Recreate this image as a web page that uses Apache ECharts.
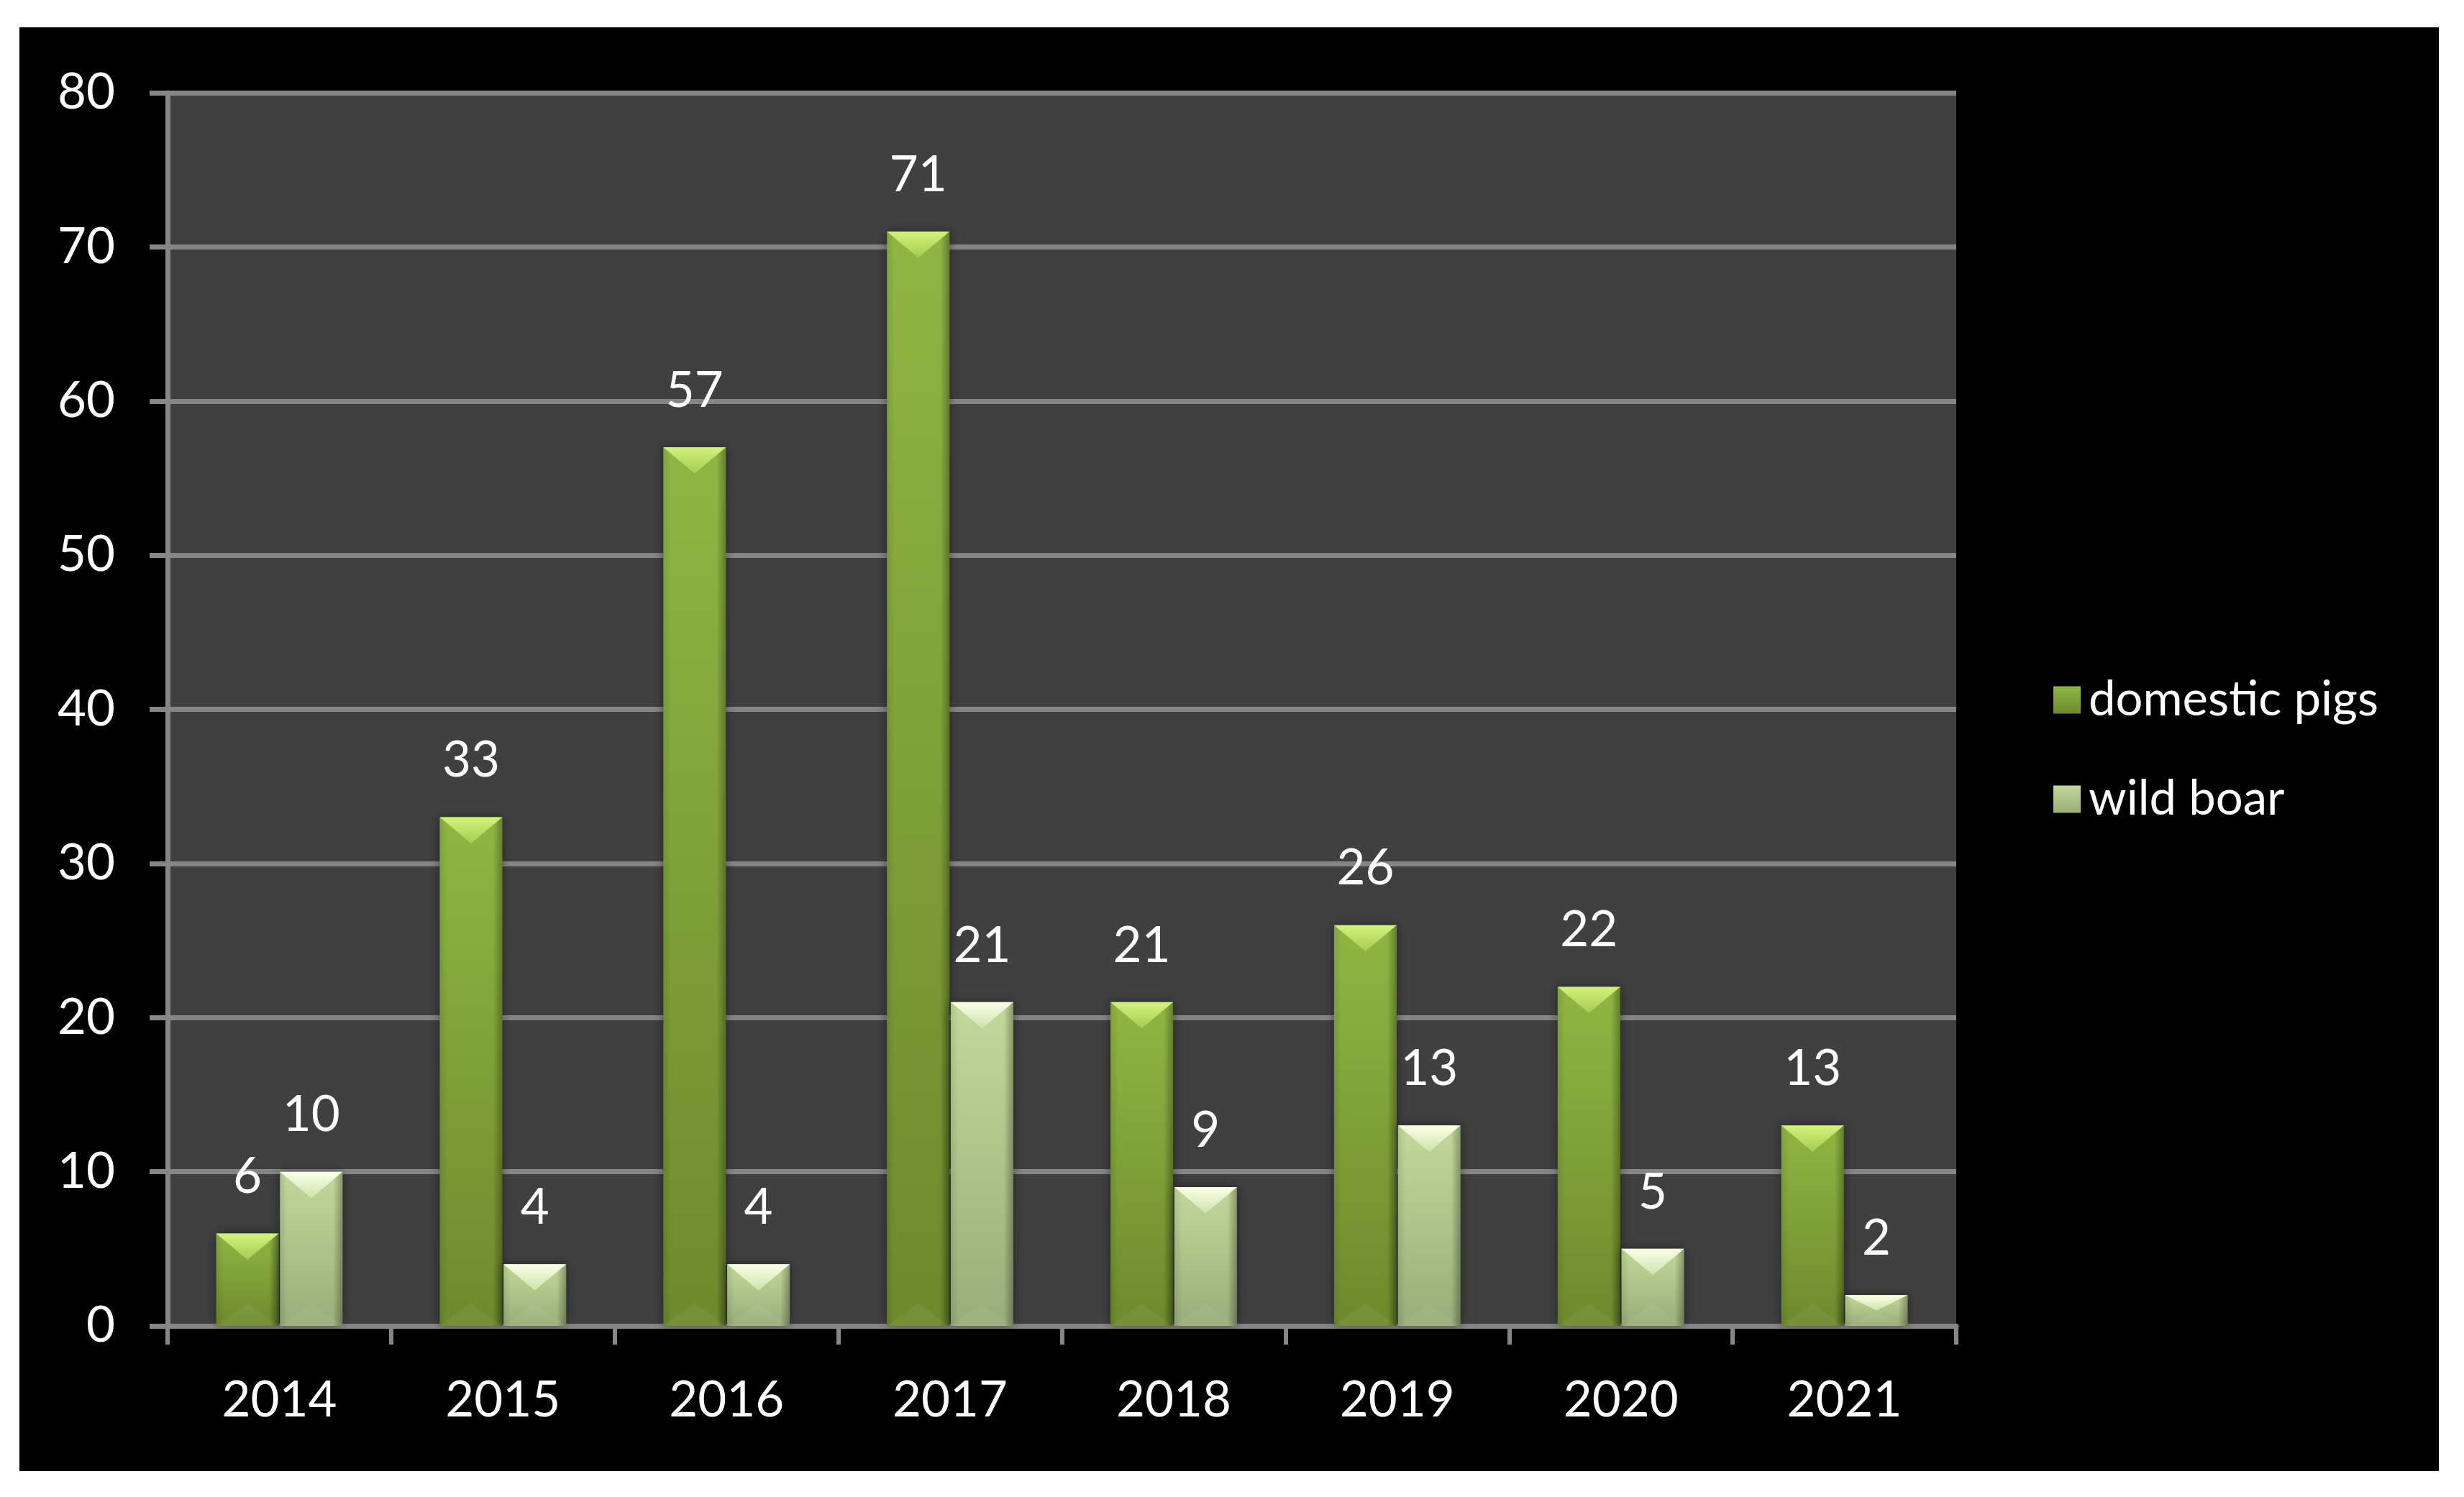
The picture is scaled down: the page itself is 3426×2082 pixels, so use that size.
<!DOCTYPE html>
<html>
<head>
<meta charset="utf-8">
<script src="https://cdn.jsdelivr.net/npm/echarts@6/dist/echarts.min.js"></script>
<style>
  html, body { margin: 0; padding: 0; background: #ffffff; }
  #wrap { position: relative; width: 3426px; height: 2082px; background: #ffffff; }
  #frame { position: absolute; left: 27px; top: 38px; width: 3364px; height: 2008px; background: #000000; }
  #chart { position: absolute; left: 0; top: 0; width: 3426px; height: 2082px; }
</style>
</head>
<body>
<div id="wrap">
  <div id="frame"></div>
  <div id="chart"></div>
</div>
<script>
// ---- data ----
const years = ['2014', '2015', '2016', '2017', '2018', '2019', '2020', '2021'];
const seriesNames = ['domestic pigs', 'wild boar'];
const domesticPigs = [6, 33, 57, 71, 21, 26, 22, 13];
const wildBoar = [10, 4, 4, 21, 9, 13, 5, 2];
const yTicks = [0, 10, 20, 30, 40, 50, 60, 70, 80];

// ---- style ----
const FONT = 'Lato';
const FS = 69;
const BAR_W = 87;
const GAP_PCT = 2;
const GAP = BAR_W * GAP_PCT / 100;

const chart = echarts.init(document.getElementById('chart'), null, { renderer: 'canvas' });

function barColor(top, bottom) {
  return new echarts.graphic.LinearGradient(0, 0, 0, 1, [
    { offset: 0, color: top },
    { offset: 1, color: bottom }
  ]);
}

function bevelSeries(values, idx, capTop, capBottom) {
  return {
    type: 'custom',
    silent: true,
    z: 5,
    data: values.map((v, i) => [i, v]),
    encode: { x: 0, y: 1 },
    tooltip: { show: false },
    renderItem: function (params, api) {
      const i = api.value(0), v = api.value(1);
      const top = api.coord([i, v]);
      const base = api.coord([i, 0]);
      const off = (BAR_W + GAP) / 2;
      const cx = top[0] + (idx === 0 ? -off : off);
      const x0 = cx - BAR_W / 2, x1 = cx + BAR_W / 2;
      const yT = top[1], yB = base[1];
      const h = yB - yT;
      const d = Math.min(BAR_W * 0.42, h * 0.5);
      const d2 = Math.min(BAR_W * 0.36, h * 0.45);
      return {
        type: 'group',
        children: [
          {
            type: 'rect',
            shape: { x: x0, y: yT, width: BAR_W, height: h },
            style: {
              fill: new echarts.graphic.LinearGradient(0, 0, 1, 0, [
                { offset: 0, color: 'rgba(0,0,0,0.10)' },
                { offset: 0.12, color: 'rgba(0,0,0,0)' },
                { offset: 0.85, color: 'rgba(0,0,0,0)' },
                { offset: 1, color: 'rgba(0,0,0,0.30)' }
              ])
            }
          },
          {
            type: 'polygon',
            shape: { points: [[x0, yB], [x1, yB], [cx, yB - d2]] },
            style: { fill: 'rgba(255,255,255,0.06)' }
          },
          {
            type: 'polygon',
            shape: { points: [[x0, yT], [x1, yT], [cx, yT + d]] },
            style: {
              fill: new echarts.graphic.LinearGradient(0, 0, 0, 1, [
                { offset: 0, color: capTop },
                { offset: 1, color: capBottom }
              ])
            }
          }
        ]
      };
    }
  };
}

const labelStyle = {
  show: true,
  position: 'top',
  distance: 44,
  color: '#ffffff',
  fontFamily: FONT,
  fontSize: FS
};

const option = {
  backgroundColor: 'transparent',
  animation: false,
  textStyle: { fontFamily: FONT },
  grid: {
    left: 233, right: 706, top: 129, bottom: 238,
    show: true, backgroundColor: '#404040', borderWidth: 0,
    containLabel: false
  },
  legend: {
    orient: 'vertical',
    left: 2850,
    top: 934,
    itemWidth: 38,
    itemHeight: 38,
    itemGap: 69,
    data: seriesNames,
    textStyle: { color: '#ffffff', fontFamily: FONT, fontSize: 67, lineHeight: 69, padding: [0, 0, 0, 6] },
    icon: 'rect'
  },
  xAxis: {
    type: 'category',
    data: years,
    boundaryGap: true,
    axisLine: { show: true, lineStyle: { color: '#868686', width: 7 } },
    axisTick: { show: true, length: 26, inside: false, lineStyle: { color: '#868686', width: 6 } },
    axisLabel: { color: '#ffffff', fontFamily: FONT, fontSize: FS, margin: 69 },
    splitLine: { show: false }
  },
  yAxis: {
    type: 'value',
    min: 0, max: 80, interval: 10,
    axisLine: { show: true, lineStyle: { color: '#868686', width: 7 } },
    axisTick: { show: true, length: 25, lineStyle: { color: '#868686', width: 7 } },
    axisLabel: {
      color: '#ffffff', fontFamily: FONT, fontSize: FS, margin: 73,
      formatter: function (v) { return yTicks.indexOf(v) >= 0 ? String(v) : ''; }
    },
    splitLine: { show: true, lineStyle: { color: '#868686', width: 7 } }
  },
  series: [
    {
      name: seriesNames[0],
      type: 'bar',
      data: domesticPigs,
      barWidth: BAR_W,
      barGap: GAP_PCT + '%',
      z: 2,
      itemStyle: {
        color: barColor('#8fb644', '#6d8a2c'),
        shadowBlur: 14,
        shadowColor: 'rgba(0,0,0,0.45)'
      },
      label: labelStyle
    },
    {
      name: seriesNames[1],
      type: 'bar',
      data: wildBoar,
      barWidth: BAR_W,
      barGap: GAP_PCT + '%',
      z: 2,
      itemStyle: {
        color: barColor('#c2d99a', '#98ad78'),
        shadowBlur: 14,
        shadowColor: 'rgba(0,0,0,0.45)'
      },
      label: labelStyle
    },
    bevelSeries(domesticPigs, 0, '#d2f27c', '#a6cc50'),
    bevelSeries(wildBoar, 1, '#fbffe6', '#cfe3ac')
  ]
};

chart.setOption(option);
</script>
</body>
</html>
